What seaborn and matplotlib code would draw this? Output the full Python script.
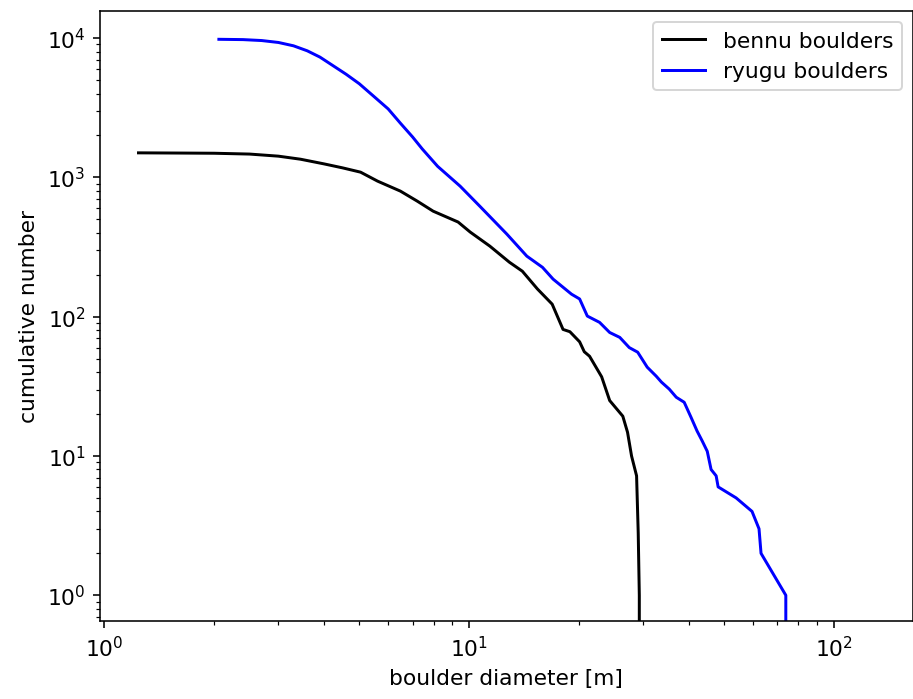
import numpy as np
import pandas as pd
import seaborn as sns
import matplotlib
matplotlib.use('Agg')
import matplotlib.pyplot as plt

plt.rcParams['font.size'] = 11

# cumulative boulder counts
bennu_diam = [1.24, 1.6, 2.0, 2.5, 3.0, 3.45, 4.0, 4.5, 5.04, 5.61, 6.48, 7.21,
              7.97, 9.33, 10.07, 11.4, 12.9, 14.0, 15.4, 16.9, 18.1, 18.9, 20.1,
              20.7, 21.4, 22.7, 23.1, 24.3, 26.4, 27.2, 27.9, 28.8, 29.1, 29.3,
              29.3]
bennu_count = [1500, 1495, 1490, 1470, 1420, 1350, 1250, 1170, 1090, 940, 797,
               675, 572, 478, 405, 321, 246, 212, 158, 123, 81, 78, 66,
               56, 52, 40, 37, 25, 19.3, 14.8, 10, 7.2, 2.8, 1,
               0]

ryugu_diam = [2.06, 2.4, 2.7, 3.0, 3.3, 3.6, 3.9, 4.25, 4.6, 5.0, 5.47, 6.0,
              6.48, 7.0, 7.44, 8.2, 9.45, 10.7, 12.7, 14.4, 15.9, 17.0, 19.1,
              20.1, 21.1, 22.8, 24.3, 25.9, 27.5, 29.0, 30.8, 32.6, 33.7, 35.4,
              37.0, 38.9, 40.6, 42.2, 43.6, 45.0, 46.1, 47.6, 48.2, 54.0, 59.7,
              62.4, 63.2, 73.9, 73.9]
ryugu_count = [9800, 9750, 9600, 9300, 8800, 8100, 7300, 6300, 5500, 4700, 3830,
               3100, 2450, 1950, 1600, 1200, 865, 621, 391, 272, 226, 186, 145,
               134, 101, 91, 77, 71, 60, 55.6, 43.4, 37.4, 33.9, 30.2,
               26.4, 24.3, 19, 15.1, 12.8, 10.8, 8, 7.2, 6, 5, 4,
               3, 2, 1, 0]

fig, ax = plt.subplots(figsize=(6.4, 4.9), dpi=142.8)
fig.subplots_adjust(left=0.109, right=0.999, bottom=0.111, top=0.983)

sns.lineplot(x=bennu_diam, y=bennu_count, sort=False, estimator=None,
             color='black', label='bennu boulders', ax=ax)
sns.lineplot(x=ryugu_diam, y=ryugu_count, sort=False, estimator=None,
             color='blue', label='ryugu boulders', ax=ax)

ax.set_xscale('log')
ax.set_yscale('log')
ax.set_xlim(0.97, 165)
ax.set_ylim(0.65, 15600)
ax.set_xlabel('boulder diameter [m]')
ax.set_ylabel('cumulative number')
ax.legend(loc='upper right')

fig.savefig('out.png', dpi=142.8)
